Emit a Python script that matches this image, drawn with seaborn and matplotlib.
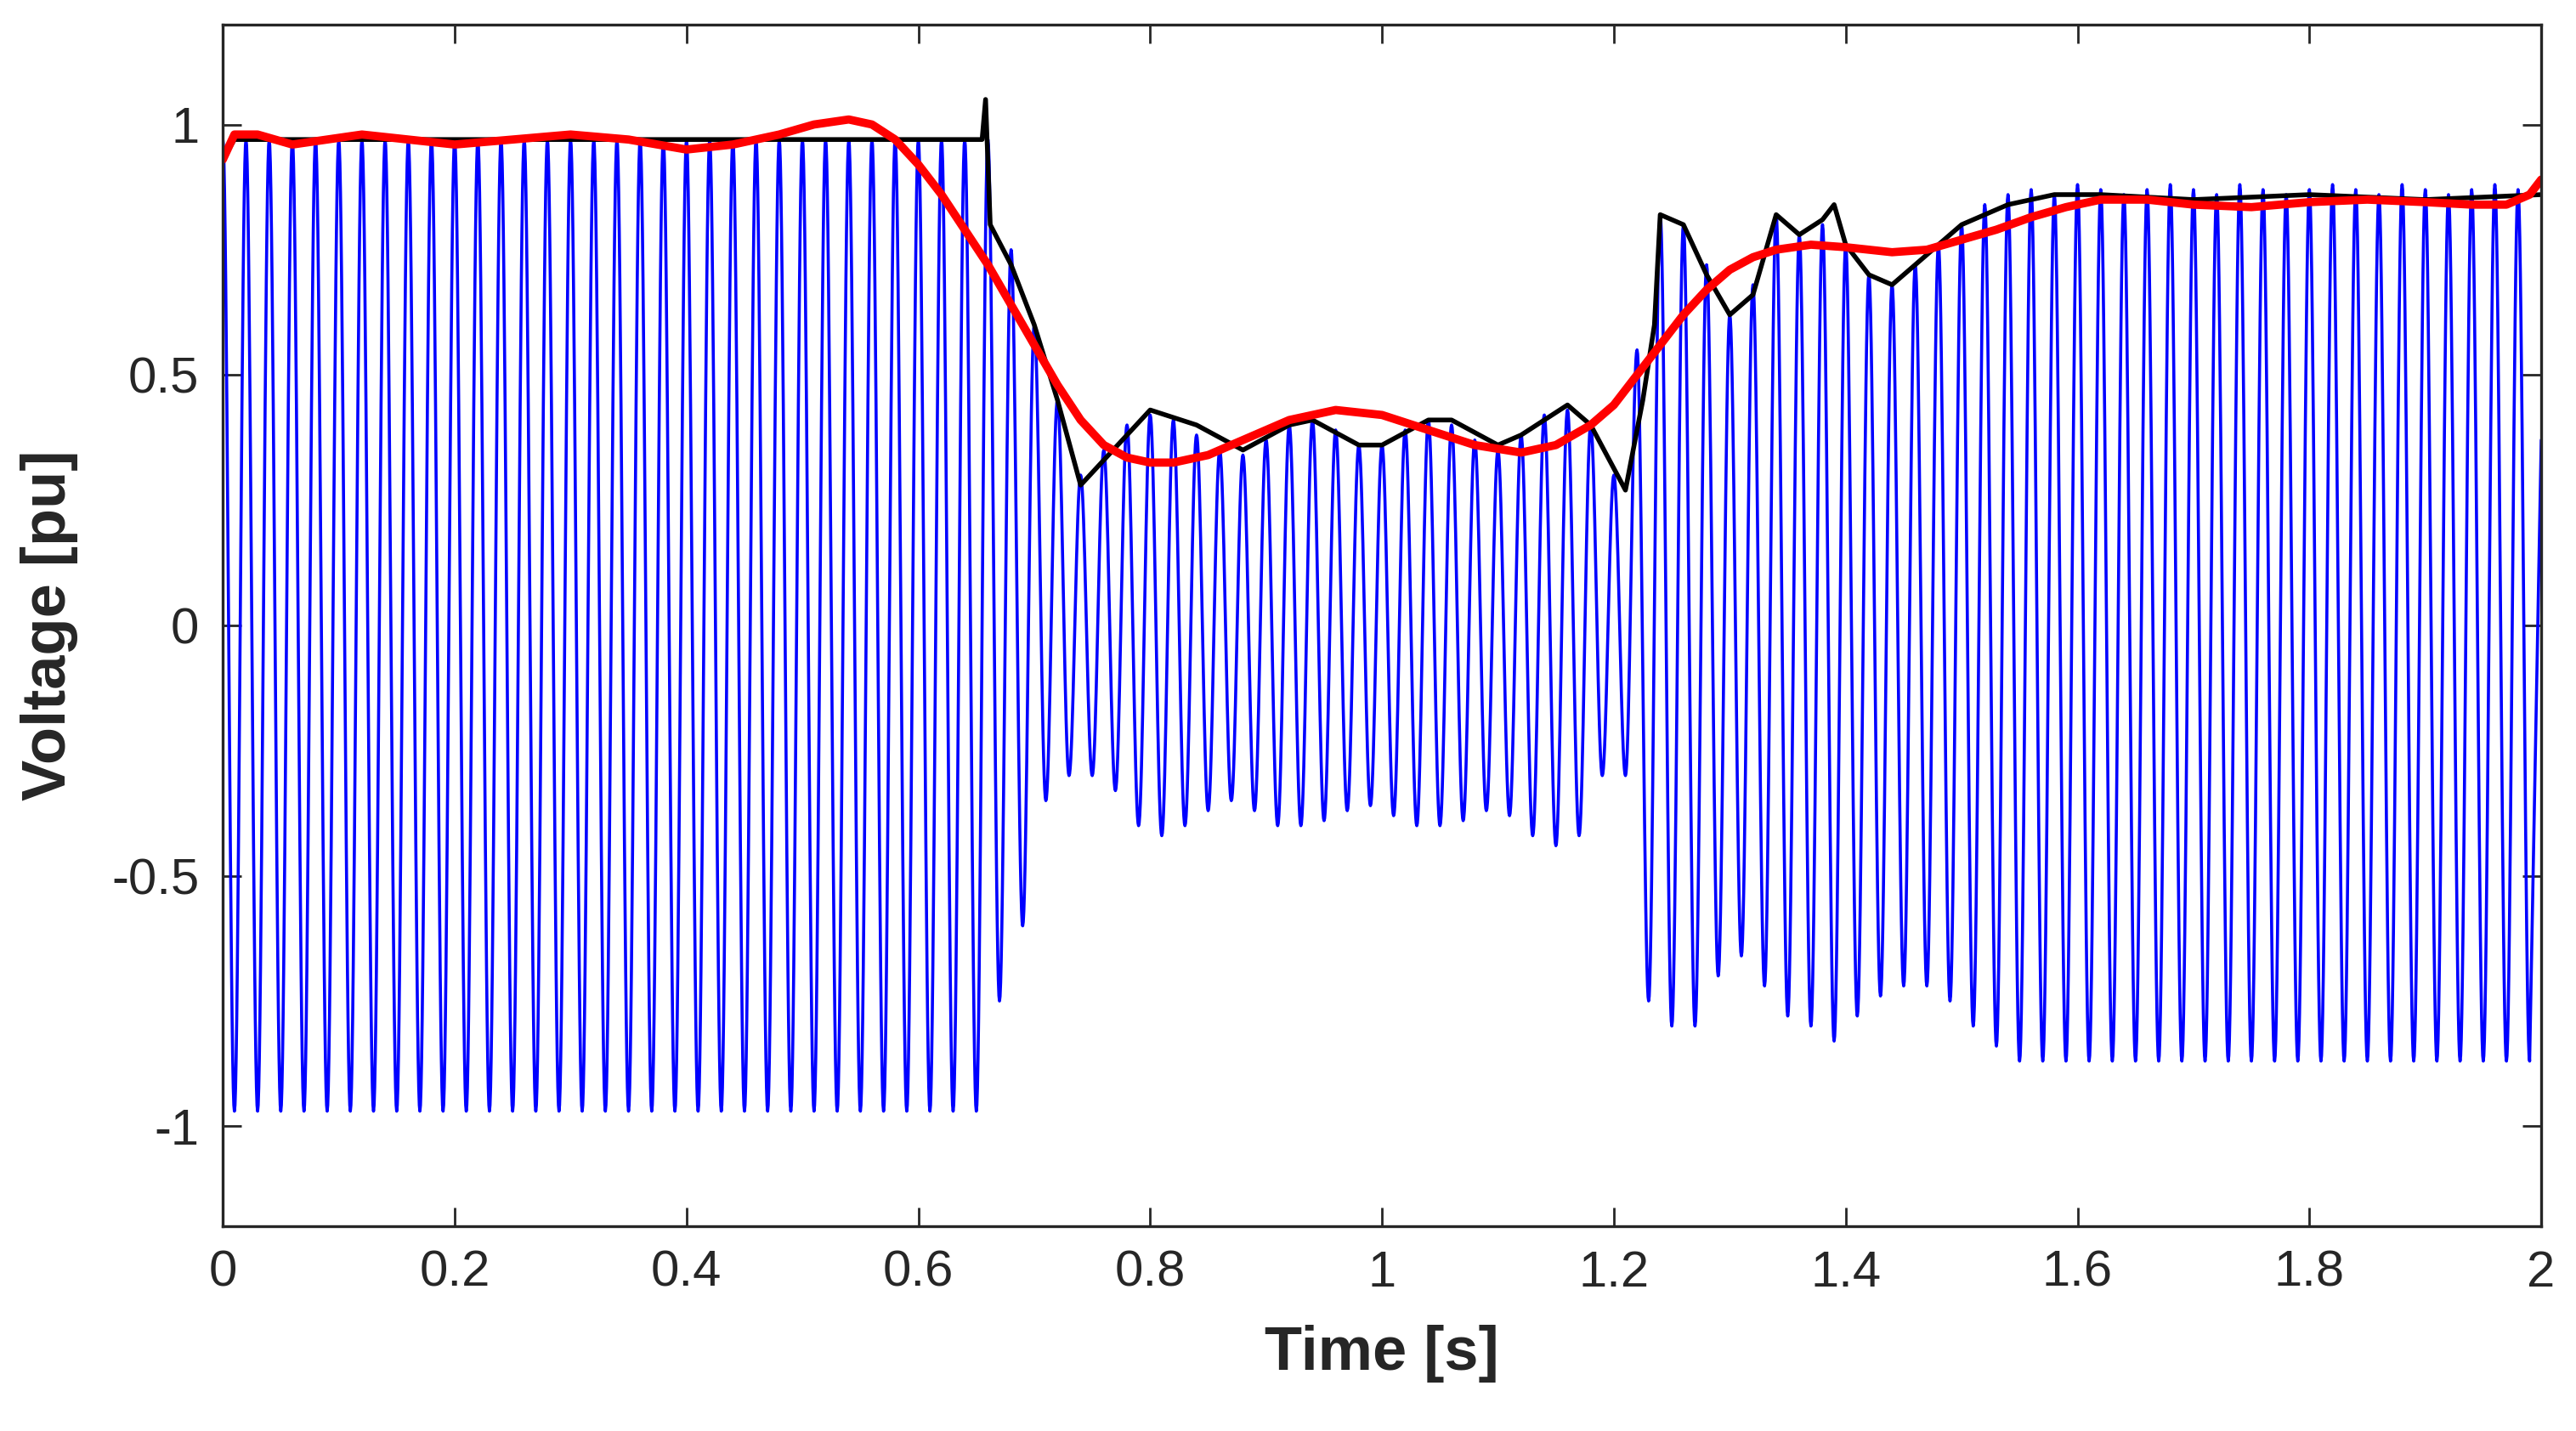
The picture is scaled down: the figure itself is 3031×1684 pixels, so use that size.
import numpy as np
import pandas as pd
import seaborn as sns
import matplotlib
matplotlib.use("Agg")
import matplotlib.pyplot as plt

# positive peaks at t = k*0.02, negative peaks at t = k*0.02 + 0.01
upper_peaks = [0.97]*33 + [0.97, 0.75, 0.60, 0.45, 0.30, 0.35, 0.40, 0.42, 0.41, 0.38,
               0.35, 0.34, 0.37, 0.40, 0.41, 0.39, 0.36, 0.36, 0.39, 0.41,
               0.40, 0.37, 0.35, 0.38, 0.42, 0.43, 0.40, 0.30, 0.55, 0.82,
               0.80, 0.72, 0.62, 0.68, 0.82, 0.78, 0.80, 0.76, 0.70, 0.68,
               0.72, 0.76, 0.80, 0.84, 0.86] + [0.87, 0.86, 0.88, 0.87, 0.86, 0.87, 0.88]*3 + [0.87, 0.86]
lower_peaks = [-0.97]*33 + [-0.75, -0.60, -0.35, -0.30, -0.30, -0.33, -0.40, -0.42, -0.40,
               -0.37, -0.35, -0.37, -0.40, -0.40, -0.39, -0.37, -0.36, -0.38, -0.40,
               -0.40, -0.39, -0.37, -0.38, -0.42, -0.44, -0.42, -0.30, -0.30, -0.75,
               -0.80, -0.80, -0.70, -0.66, -0.72, -0.78, -0.80, -0.83, -0.78, -0.74,
               -0.72, -0.72, -0.75, -0.80, -0.84] + [-0.87]*23

black_t = [0.0, 0.01, 0.1, 0.2, 0.3, 0.4, 0.5, 0.6, 0.655, 0.658, 0.662, 0.68, 0.70, 0.72, 0.74,
           0.76, 0.80, 0.84, 0.88, 0.92, 0.94, 0.98, 1.00, 1.04, 1.06, 1.10, 1.12, 1.16, 1.18,
           1.21, 1.225, 1.235, 1.24, 1.26, 1.28, 1.30, 1.32, 1.34, 1.36, 1.38, 1.39, 1.40,
           1.42, 1.44, 1.46, 1.48, 1.50, 1.54, 1.58, 1.62, 1.70, 1.80, 1.90, 2.0]
black_v = [0.93, 0.97, 0.97, 0.97, 0.97, 0.97, 0.97, 0.97, 0.97, 1.05, 0.80, 0.72, 0.60, 0.45, 0.28,
           0.33, 0.43, 0.40, 0.35, 0.40, 0.41, 0.36, 0.36, 0.41, 0.41, 0.36, 0.38, 0.44, 0.40,
           0.27, 0.45, 0.60, 0.82, 0.80, 0.70, 0.62, 0.66, 0.82, 0.78, 0.81, 0.84, 0.76,
           0.70, 0.68, 0.72, 0.76, 0.80, 0.84, 0.86, 0.86, 0.85, 0.86, 0.85, 0.86]

red_t = [0.0, 0.01, 0.03, 0.06, 0.12, 0.2, 0.3, 0.35, 0.4, 0.44, 0.48, 0.51, 0.54, 0.56, 0.58, 0.60, 0.62,
         0.64, 0.66, 0.68, 0.70, 0.72, 0.74, 0.76, 0.78, 0.80, 0.82, 0.85, 0.88, 0.92, 0.96,
         1.00, 1.04, 1.08, 1.12, 1.15, 1.18, 1.20, 1.22, 1.24, 1.26, 1.28, 1.30, 1.32, 1.34,
         1.37, 1.40, 1.44, 1.47, 1.50, 1.53, 1.56, 1.59, 1.62, 1.66, 1.70, 1.75, 1.80,
         1.85, 1.90, 1.94, 1.97, 1.99, 2.0]
red_v = [0.93, 0.98, 0.98, 0.96, 0.98, 0.96, 0.98, 0.97, 0.95, 0.96, 0.98, 1.00, 1.01, 1.00, 0.97, 0.92, 0.86,
         0.79, 0.72, 0.64, 0.56, 0.48, 0.41, 0.36, 0.335, 0.325, 0.325, 0.34, 0.37, 0.41, 0.43,
         0.42, 0.39, 0.36, 0.345, 0.36, 0.40, 0.44, 0.50, 0.56, 0.62, 0.67, 0.71, 0.735, 0.75,
         0.76, 0.755, 0.745, 0.75, 0.77, 0.79, 0.815, 0.835, 0.85, 0.85, 0.84, 0.835, 0.845,
         0.85, 0.845, 0.84, 0.84, 0.86, 0.89]

# blue waveform: half-cosine segments between successive peaks
peak_t, peak_v = [], []
for k in range(100):
    peak_t += [k*0.02, k*0.02 + 0.01]
    peak_v += [upper_peaks[k], lower_peaks[k]]
bt, bv = [], []
for i in range(len(peak_t)-1):
    s = np.linspace(0, 1, 20, endpoint=False)
    a, b = peak_v[i], peak_v[i+1]
    bt += list(peak_t[i] + s*0.01)
    bv += list((a+b)/2 + (a-b)/2*np.cos(np.pi*s))
bt.append(peak_t[-1]); bv.append(peak_v[-1])
bt.append(2.0); bv.append(0.37)
blue = pd.DataFrame({"t": bt, "v": bv})

sns.set_theme(style="white")
plt.rcParams['font.family'] = ['Liberation Sans', 'DejaVu Sans']
fig = plt.figure(figsize=(15.155, 8.42), dpi=200)
ax = fig.add_axes([0.0865, 0.143, 0.9, 0.84])
sns.lineplot(data=blue, x="t", y="v", ax=ax, color="#0000ff", lw=1.3, estimator=None, sort=False)
sns.lineplot(x=black_t, y=black_v, ax=ax, color="black", lw=2.0, estimator=None, sort=False)
sns.lineplot(x=red_t, y=red_v, ax=ax, color="#ff0000", lw=3.5, estimator=None, sort=False)
ax.set_xlim(0, 2); ax.set_ylim(-1.2, 1.2)
ax.set_xticks(np.arange(0, 2.01, 0.2))
ax.set_xticklabels(["0", "0.2", "0.4", "0.6", "0.8", "1", "1.2", "1.4", "1.6", "1.8", "2"])
ax.set_yticks([-1, -0.5, 0, 0.5, 1]); ax.set_yticklabels(["-1", "-0.5", "0", "0.5", "1"])
ax.tick_params(direction="in", length=8, width=1, labelsize=21.5, colors="#262626",
               top=True, right=True, bottom=True, left=True, pad=10)
for s in ax.spines.values():
    s.set_color("#262626"); s.set_linewidth(1.2)
ax.set_xlabel("Time [s]", fontsize=26, fontweight="bold", color="#262626", labelpad=12)
ax.set_ylabel("Voltage [pu]", fontsize=26, fontweight="bold", color="#262626", labelpad=14)
fig.savefig("out.png", dpi=200)
